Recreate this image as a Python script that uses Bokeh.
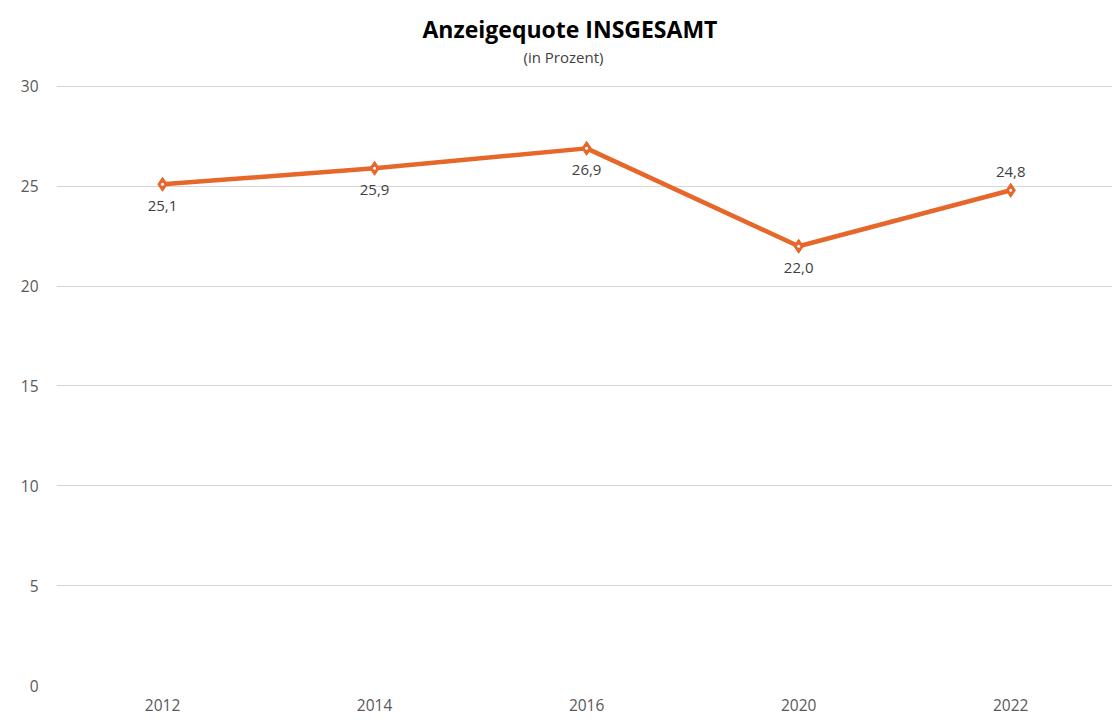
from bokeh.plotting import figure
from bokeh.models import ColumnDataSource, LabelSet, FixedTicker, Range1d, Title
from bokeh.core.properties import value
from bokeh.embed import file_html
from bokeh.resources import INLINE

years = ["2012", "2014", "2016", "2020", "2022"]
quote = [25.1, 25.9, 26.9, 22.0, 24.8]
label_text = ["25,1", "25,9", "26,9", "22,0", "24,8"]
label_below = [True, True, True, True, False]
y_ticks = [0, 5, 10, 15, 20, 25, 30]

ORANGE = "#E7672A"
FONT = "Open Sans"

idx = list(range(len(years)))
offsets = [-27 if b else 13 for b in label_below]
src = ColumnDataSource(dict(x=idx, y=quote, t=label_text, off=offsets))

p = figure(width=1112, height=721, output_backend="svg", toolbar_location=None,
           title=None,
           x_range=Range1d(-0.5, 4.48), y_range=Range1d(0, 31.0),
           min_border_left=56, min_border_right=0, min_border_top=66, min_border_bottom=36)
p.outline_line_color = None
p.background_fill_color = "white"
p.border_fill_color = "white"

p.line("x", "y", source=src, line_color=ORANGE, line_width=4.5)
p.scatter("x", "y", source=src, marker="diamond", size=14, fill_color=ORANGE,
          line_color=ORANGE, line_width=1)
p.scatter("x", "y", source=src, marker="circle", size=3, fill_color="white",
          line_color=None)

labels = LabelSet(x="x", y="y", text="t", source=src, y_offset="off",
                  text_align="center", text_baseline="bottom",
                  text_font=value(FONT), text_font_size=value("15px"),
                  text_color="#404040")
p.add_layout(labels)

p.xaxis.ticker = FixedTicker(ticks=idx)
p.xaxis.major_label_overrides = {i: y for i, y in zip(idx, years)}
p.yaxis.ticker = FixedTicker(ticks=y_ticks)
for ax in (p.xaxis[0], p.yaxis[0]):
    ax.axis_line_color = None
    ax.major_tick_line_color = None
    ax.minor_tick_line_color = None
    ax.major_label_text_font = FONT
    ax.major_label_text_font_size = "15.5px"
    ax.major_label_text_color = "#595959"
p.yaxis.major_label_standoff = 12
p.xaxis.major_label_standoff = 7

p.xgrid.grid_line_color = None
p.ygrid.grid_line_color = "#d4d4d4"
p.ygrid.grid_line_width = 1.2

sub = Title(text="(in Prozent)", align="left", offset=467, standoff=0,
            text_font=FONT, text_font_size="15px", text_font_style="normal",
            text_color="#404040")
main = Title(text="Anzeigequote INSGESAMT", align="left", offset=366, standoff=0,
             text_font=FONT, text_font_size="23px", text_font_style="bold",
             text_color="#000000")
p.add_layout(sub, "above")
p.add_layout(main, "above")

open("out.html", "w").write(file_html(p, INLINE))
